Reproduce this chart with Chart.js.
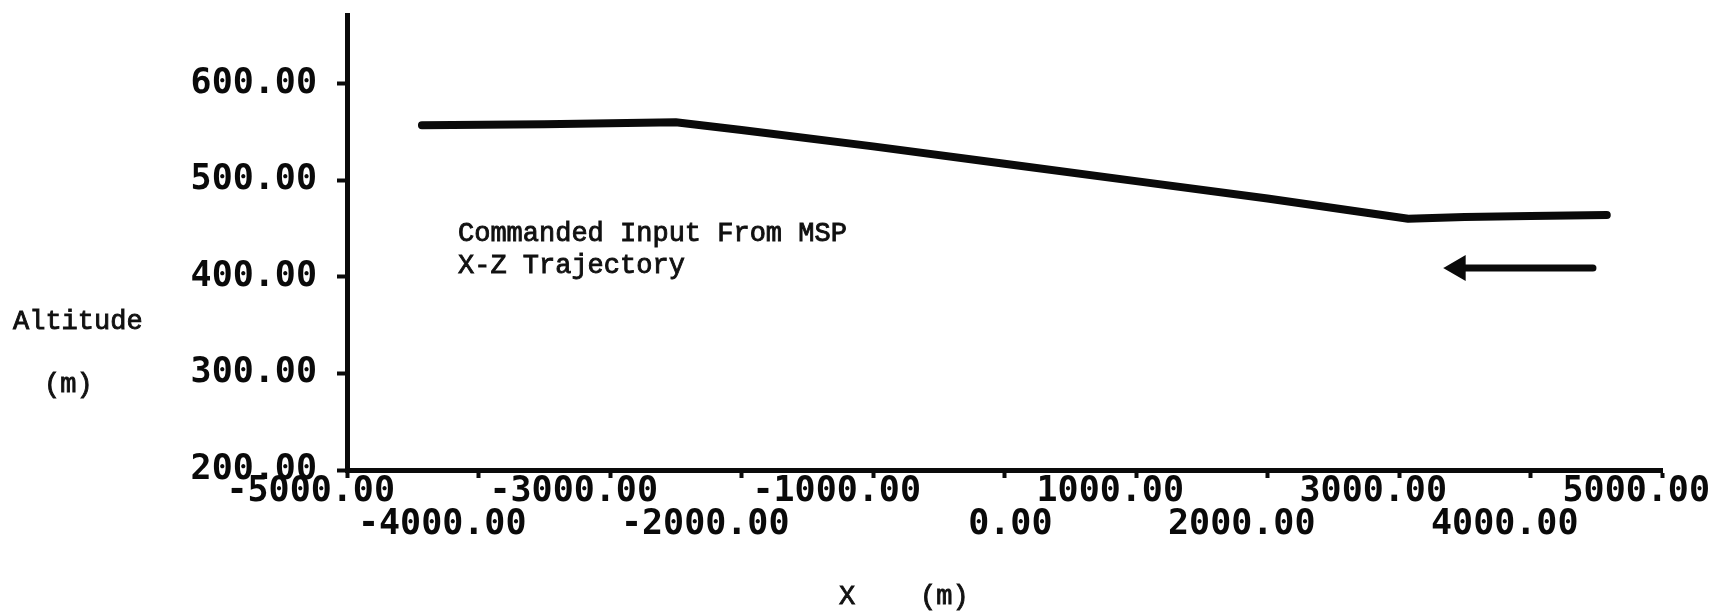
<!DOCTYPE html>
<html>
<head>
<meta charset="utf-8">
<script src="https://cdn.jsdelivr.net/npm/chart.js@4.4.1/dist/chart.umd.min.js"></script>
<style>
  html, body { margin: 0; padding: 0; background: #fff; }
  canvas { display: block; }
</style>
</head>
<body>
<canvas id="myChart" width="1725" height="613"></canvas>
<script>
// trajectory (x in m, altitude in m)
const trajX = [-4430, -3500, -2500, -2000, -1000, 0, 1000, 2000, 3070, 3500, 4000, 4580];
const trajZ = [557, 558, 560, 552, 535, 517, 499, 481, 460, 462, 463, 464];

// direction arrow
const arrowX = [3450, 4475];
const arrowZ = [409, 409];

const xTicks = [-5000, -4000, -3000, -2000, -1000, 0, 1000, 2000, 3000, 4000, 5000];
const yTicks = [200, 300, 400, 500, 600];

const tickFont = { family: 'DejaVu Sans Mono', size: 35, weight: 'bold', lineHeight: 0.943 };
const textFont = '27px "Liberation Mono"';

// free text drawn on the canvas (typewriter look: fill + thin stroke)
function typeText(ctx, s, x, y) {
    ctx.fillText(s, x, y);
    ctx.strokeText(s, x, y);
}

const textPlugin = {
    id: 'textPlugin',
    afterDraw(chart) {
        const ctx = chart.ctx;
        ctx.save();
        ctx.fillStyle = '#111';
        ctx.strokeStyle = '#111';
        ctx.lineWidth = 0.9;
        ctx.font = textFont;
        ctx.textAlign = 'left';
        ctx.textBaseline = 'middle';
        typeText(ctx, 'Commanded Input From MSP', 458, 234);
        typeText(ctx, 'X-Z Trajectory', 458, 266);
        typeText(ctx, 'Altitude', 13, 322);
        typeText(ctx, '(m)', 44, 385);
        typeText(ctx, 'X    (m)', 839, 597);
        ctx.restore();
    }
};

function chart(){
    const lineData = [];
    for (let i = 0; i < trajX.length; i++) {
        lineData.push({ x: trajX[i], y: trajZ[i] });
    }
    const arrowData = [];
    for (let i = 0; i < arrowX.length; i++) {
        arrowData.push({ x: arrowX[i], y: arrowZ[i] });
    }

    const data = {
        datasets: [{
            label: 'Trajectory',
            data: lineData,
            borderColor: '#0a0a0a',
            borderWidth: 8,
            borderCapStyle: 'round',
            borderJoinStyle: 'round',
            pointRadius: 0,
            tension: 0,
        }, {
            label: 'Arrow',
            data: arrowData,
            borderColor: '#0a0a0a',
            backgroundColor: '#0a0a0a',
            borderWidth: 7,
            borderCapStyle: 'round',
            pointStyle: 'triangle',
            pointRotation: -90,
            pointRadius: [13, 0],
            pointBorderWidth: 2,
            tension: 0,
        }]
    };

    const config = {
        type: 'line',
        data: data,
        plugins: [textPlugin],
        options: {
            responsive: false,
            animation: false,
            layout: { padding: { top: 7, right: 63, left: 0, bottom: 0 } },
            plugins: {
                legend: { display: false },
                tooltip: { enabled: false },
            },
            scales: {
                x: {
                    type: 'linear',
                    min: -5000,
                    max: 5000,
                    afterBuildTicks: (scale) => { scale.ticks = xTicks.map(v => ({ value: v })); },
                    afterFit: (scale) => {
                        scale.height = 143;
                        scale.paddingLeft = 0;
                        scale.paddingRight = 0;
                    },
                    border: { display: true, color: '#0a0a0a', width: 5 },
                    grid: {
                        display: true,
                        drawOnChartArea: false,
                        drawTicks: true,
                        tickLength: 8,
                        tickWidth: 4,
                        tickColor: '#0a0a0a',
                    },
                    ticks: {
                        autoSkip: false,
                        maxRotation: 0,
                        minRotation: 0,
                        align: 'end',
                        labelOffset: 48,
                        padding: -3,
                        color: '#0a0a0a',
                        font: tickFont,
                        callback: (value) => {
                            const s = Number(value).toFixed(2);
                            return (Math.round(value / 1000) % 2 === 0) ? ['', s] : [s, ''];
                        }
                    }
                },
                y: {
                    type: 'linear',
                    min: 200,
                    max: 671,
                    afterBuildTicks: (scale) => { scale.ticks = yTicks.map(v => ({ value: v })); },
                    afterFit: (scale) => {
                        scale.width = 347;
                        scale.paddingTop = 0;
                        scale.paddingBottom = 0;
                    },
                    border: { display: true, color: '#0a0a0a', width: 5 },
                    grid: {
                        display: true,
                        drawOnChartArea: false,
                        drawTicks: true,
                        tickLength: 10,
                        tickWidth: 4,
                        tickColor: '#0a0a0a',
                    },
                    ticks: {
                        padding: 20,
                        color: '#0a0a0a',
                        font: { family: 'DejaVu Sans Mono', size: 35, weight: 'bold' },
                        callback: (value) => Number(value).toFixed(2)
                    }
                }
            }
        }
    };

    const myChart = new Chart(
        document.getElementById('myChart'),
        config
    );
}

chart();
</script>
</body>
</html>
